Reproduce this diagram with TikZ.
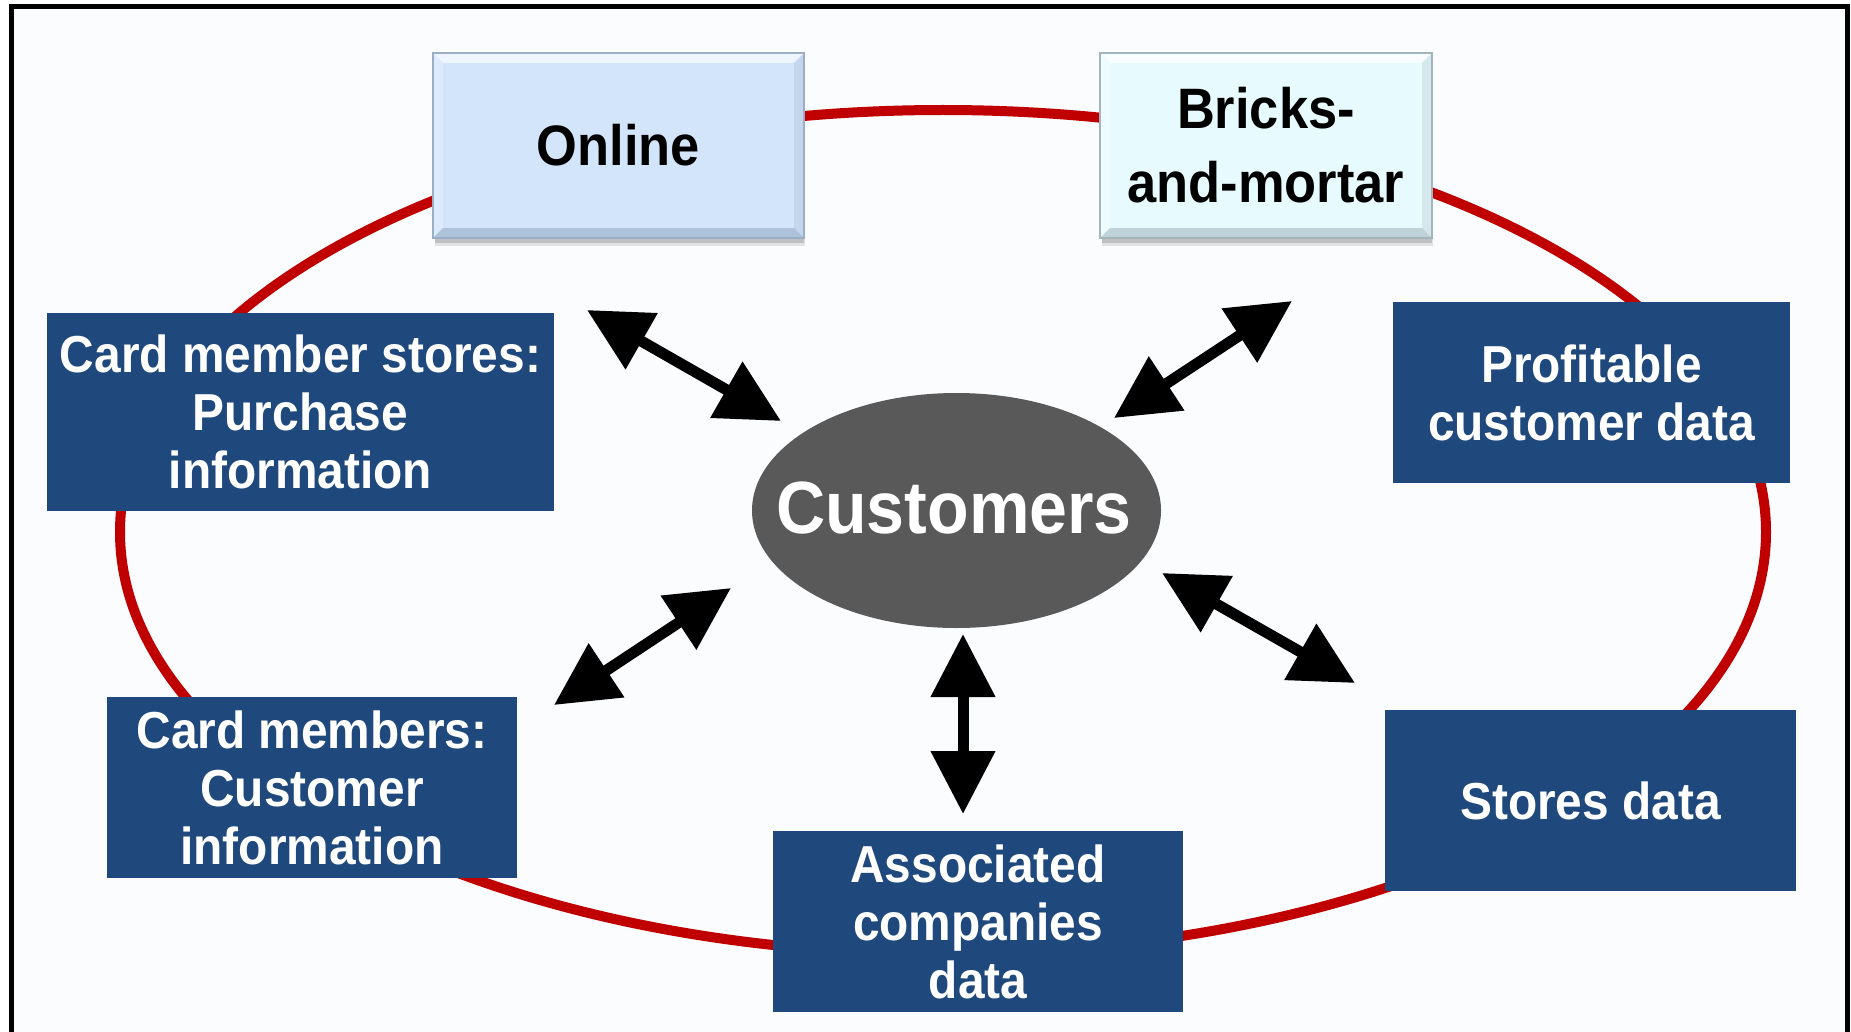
\documentclass[tikz,border=0pt]{standalone}
\usepackage{fontspec}
\setmainfont{Liberation Sans}[FakeStretch=0.92]
\usetikzlibrary{arrows.meta,calc}
\definecolor{darkblue}{HTML}{1F497D}
\definecolor{ringred}{HTML}{C00000}
\definecolor{custgray}{HTML}{595959}
\definecolor{bgfill}{HTML}{FBFCFE}
\definecolor{onlinefill}{HTML}{D3E5FB}
\definecolor{onlinetop}{HTML}{EEF5FE}
\definecolor{onlineleft}{HTML}{DCEAFC}
\definecolor{onlineright}{HTML}{C4D6EE}
\definecolor{onlinebot}{HTML}{AEC1DB}
\definecolor{onlineline}{HTML}{9AAEC8}
\definecolor{bricksfill}{HTML}{E7FAFE}
\definecolor{brickstop}{HTML}{F8FEFF}
\definecolor{bricksleft}{HTML}{EFFCFF}
\definecolor{bricksright}{HTML}{D4E8EE}
\definecolor{bricksbot}{HTML}{BFD2D8}
\definecolor{bricksline}{HTML}{A3B5BC}
\begin{document}
\begin{tikzpicture}[x=1pt,y=-1pt,
  databox/.style={rectangle, fill=darkblue, text=white, inner sep=0pt,
    font=\bfseries\fontsize{52}{58}\selectfont, align=center},
  topbox/.style={rectangle, inner sep=0pt, text=black,
    font=\bfseries\fontsize{57}{74}\selectfont, align=center},
  ring/.style={draw=ringred, line width=10pt},
  twoway/.style={{Triangle[length=63pt,width=62pt]}-{Triangle[length=63pt,width=62pt]},
    line width=11pt, black},
  frameline/.style={line width=5pt, black}]
\useasboundingbox (0,0) rectangle (1851,1032);
\fill[white] (0,0) rectangle (1851,1032);
\fill[bgfill] (11,7) rectangle (1847,1032);
\draw[frameline] (11,1045) -- (11,7) -- (1847,7) -- (1847,1045);

% red ring
\draw[ring] (943,532) ellipse [x radius=823, y radius=422];

% shadows of the top boxes
\foreach \xa/\xb in {433/804,1100/1432}{
  \fill[black, opacity=0.10] (\xa+2,238) rectangle (\xb+1,246);
  \fill[black, opacity=0.15] (\xa+2,238) rectangle (\xb,243);
}

% Online box
\node[topbox, fill=onlinefill, minimum width=371pt, minimum height=185pt] (online) at (618.5,145.5) {Online};
\fill[onlinetop] (online.north west) -- (online.north east) -- ($(online.north east)+(-10,10)$) -- ($(online.north west)+(10,10)$) -- cycle;
\fill[onlineleft] (online.north west) -- ($(online.north west)+(10,10)$) -- ($(online.south west)+(10,-10)$) -- (online.south west) -- cycle;
\fill[onlineright] (online.north east) -- ($(online.north east)+(-10,10)$) -- ($(online.south east)+(-10,-10)$) -- (online.south east) -- cycle;
\fill[onlinebot] (online.south west) -- ($(online.south west)+(10,-10)$) -- ($(online.south east)+(-10,-10)$) -- (online.south east) -- cycle;
\draw[onlineline, line width=1.5pt] (online.north west) rectangle (online.south east);

% Bricks-and-mortar box
\node[topbox, fill=bricksfill, minimum width=332pt, minimum height=185pt] (bricks) at (1266,145.5) {Bricks-\\and-mortar};
\fill[brickstop] (bricks.north west) -- (bricks.north east) -- ($(bricks.north east)+(-10,10)$) -- ($(bricks.north west)+(10,10)$) -- cycle;
\fill[bricksleft] (bricks.north west) -- ($(bricks.north west)+(10,10)$) -- ($(bricks.south west)+(10,-10)$) -- (bricks.south west) -- cycle;
\fill[bricksright] (bricks.north east) -- ($(bricks.north east)+(-10,10)$) -- ($(bricks.south east)+(-10,-10)$) -- (bricks.south east) -- cycle;
\fill[bricksbot] (bricks.south west) -- ($(bricks.south west)+(10,-10)$) -- ($(bricks.south east)+(-10,-10)$) -- (bricks.south east) -- cycle;
\draw[bricksline, line width=1.5pt] (bricks.north west) rectangle (bricks.south east);

% data boxes
\node[databox, minimum width=507pt, minimum height=198pt] (cms) at (300.5,412) {Card member stores:\\Purchase\\information};
\node[databox, minimum width=397pt, minimum height=181pt] (prof) at (1591.5,392.5) {Profitable\\customer data};
\node[databox, minimum width=410pt, minimum height=181pt] (cm) at (312,787.5) {Card members:\\Customer\\information};
\node[databox, minimum width=410pt, minimum height=181pt] (assoc) at (978,921.5) {Associated\\companies\\data};
\node[databox, minimum width=411pt, minimum height=181pt] (stores) at (1590.5,800.5) {Stores data};

% customers
\fill[custgray] (956.5,510.5) ellipse [x radius=204.5, y radius=117.5];
\node[text=white, inner sep=0pt, font=\bfseries\fontsize{74}{80}\selectfont] (cust) at (954,508) {Customers};

% arrow end points
\coordinate (ulA) at (587,310);  \coordinate (ulB) at (781,421);
\coordinate (urA) at (1292,301); \coordinate (urB) at (1114,418);
\coordinate (swA) at (731,588);  \coordinate (swB) at (554,705);
\coordinate (sA) at (963,634);   \coordinate (sB) at (963,814);
\coordinate (seA) at (1162,573); \coordinate (seB) at (1355,683);

\draw[twoway] (ulA) -- (ulB);
\draw[twoway] (urA) -- (urB);
\draw[twoway] (swA) -- (swB);
\draw[twoway] (sA) -- (sB);
\draw[twoway] (seA) -- (seB);
\end{tikzpicture}
\end{document}
